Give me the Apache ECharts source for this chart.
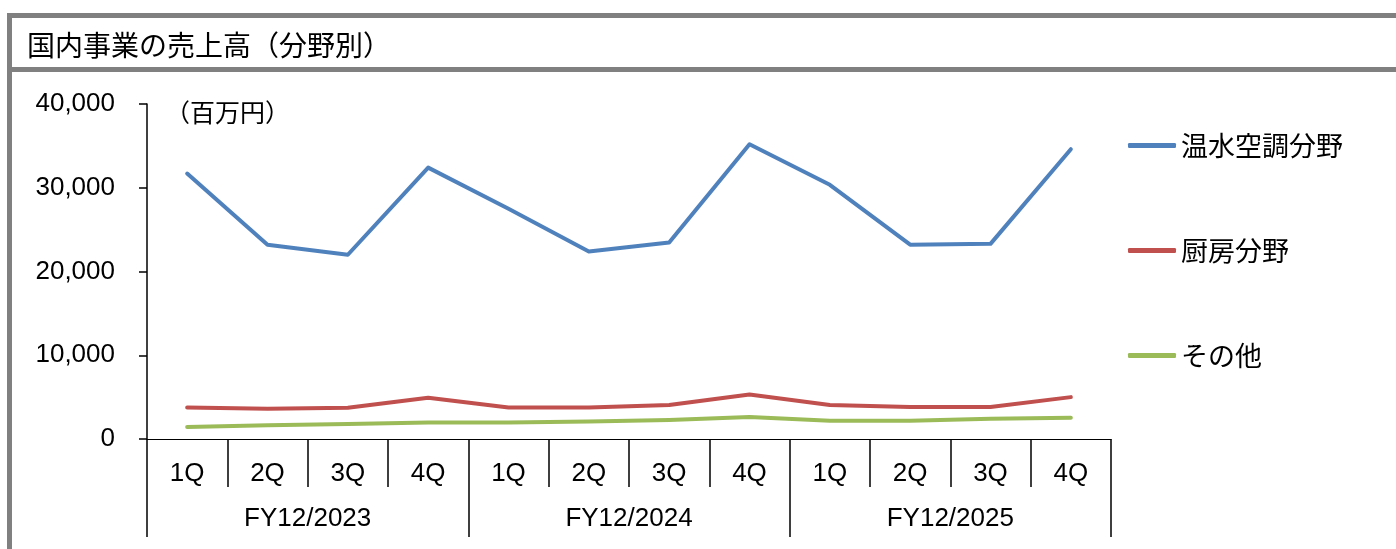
<!DOCTYPE html>
<html>
<head>
<meta charset="utf-8">
<script src="https://cdn.jsdelivr.net/npm/echarts@6/dist/echarts.min.js"></script>
<style>
html,body{margin:0;padding:0;background:#fff;}
#chart{width:1396px;height:549px;}
</style>
</head>
<body>
<div id="chart"></div>
<script>
const quarters = ['1Q','2Q','3Q','4Q','1Q','2Q','3Q','4Q','1Q','2Q','3Q','4Q'];
const fiscalYears = ['FY12/2023','FY12/2024','FY12/2025'];
const seriesNames = ['温水空調分野','厨房分野','その他'];
const hvac = [31700, 23200, 22000, 32400, 27500, 22400, 23450, 35200, 30350, 23200, 23300, 34600];
const kitchen = [3770, 3610, 3730, 4920, 3770, 3770, 4050, 5320, 4050, 3810, 3810, 5000];
const others = [1430, 1630, 1790, 1980, 1980, 2100, 2280, 2620, 2180, 2180, 2420, 2540];
const colors = ['#4F81BD','#C0504D','#9BBB59'];
const titleText = '国内事業の売上高（分野別）';
const unitText = '（百万円）';

const numFont = '"Liberation Sans", Arial, sans-serif';
const cjkFont = '"Noto Sans CJK JP", sans-serif';
const frameColor = '#808080';

const chart = echarts.init(document.getElementById('chart'), null, {renderer:'canvas'});

function lineSeries(name, data, color) {
  return {
    name: name, type: 'line', data: data, xAxisIndex: 0,
    symbol: 'none', smooth: false,
    lineStyle: {color: color, width: 4, cap: 'round', join: 'round'},
    itemStyle: {color: color},
    emphasis: {disabled: true}
  };
}

chart.setOption({
  animation: false,
  backgroundColor: '#fff',
  title: {
    text: titleText, left: 22, top: 26,
    textStyle: {fontFamily: cjkFont, fontSize: 28, fontWeight: 'normal', color: '#000'}
  },
  graphic: [
    {type:'rect', shape:{x:7, y:13, width:1389, height:5}, style:{fill:frameColor}, silent:true},
    {type:'rect', shape:{x:7, y:67, width:1389, height:5}, style:{fill:frameColor}, silent:true},
    {type:'rect', shape:{x:7, y:13, width:5, height:536}, style:{fill:frameColor}, silent:true},
    {type:'text', left:165, top:100, style:{text: unitText, font: '25px ' + cjkFont, fill:'#000'}, silent:true}
  ],
  legend: {
    orient: 'vertical', left: 1123, top: 127,
    itemWidth: 48, itemHeight: 5, itemGap: 78,
    icon: 'roundRect',
    textStyle: {fontFamily: cjkFont, fontSize: 27, color: '#000'},
    data: seriesNames,
    selectedMode: false
  },
  grid: {left: 147, right: 285, top: 104, bottom: 110, containLabel: false},
  xAxis: [
    {
      type: 'category', data: quarters, position: 'bottom', boundaryGap: true,
      axisLine: {show: true, lineStyle: {color: '#000', width: 1}},
      axisTick: {show: true, interval: 0, length: 48, lineStyle: {color: '#000', width: 1.5}},
      axisLabel: {interval: 0, margin: 22, fontFamily: numFont, fontSize: 26, color: '#000'},
      splitLine: {show: false}
    },
    {
      type: 'category', data: fiscalYears, position: 'bottom', offset: 0, boundaryGap: true,
      axisLine: {show: false},
      axisTick: {show: true, interval: 0, length: 98, lineStyle: {color: '#000', width: 1.5}},
      axisLabel: {interval: 0, margin: 67, fontFamily: numFont, fontSize: 26, color: '#000'},
      splitLine: {show: false}
    }
  ],
  yAxis: {
    type: 'value', min: 0, max: 40000, interval: 10000,
    axisLine: {show: true, lineStyle: {color: '#000', width: 1.5}},
    axisTick: {show: true, length: 8, lineStyle: {color: '#000', width: 1.5}},
    axisLabel: {
      margin: 32, fontFamily: numFont, fontSize: 26, color: '#000',
      formatter: function (v) { return Number(v).toLocaleString('en-US'); }
    },
    splitLine: {show: false}
  },
  series: [
    lineSeries(seriesNames[0], hvac, colors[0]),
    lineSeries(seriesNames[1], kitchen, colors[1]),
    lineSeries(seriesNames[2], others, colors[2])
  ]
});
</script>
</body>
</html>
